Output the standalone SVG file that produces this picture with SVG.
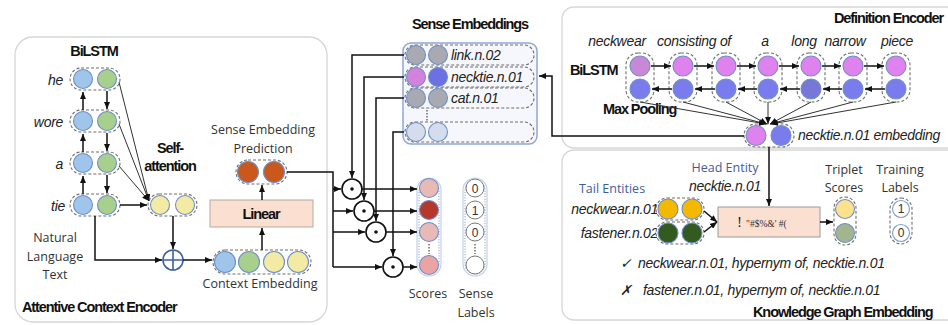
<svg xmlns="http://www.w3.org/2000/svg" width="948" height="325" viewBox="0 0 948 325">
<defs>
  <marker id="arr" markerWidth="7" markerHeight="6" refX="7" refY="3" orient="auto" markerUnits="userSpaceOnUse">
    <path d="M0,0 L7,3 L0,6 z" fill="#111"/>
  </marker>
  <style>
    .panel{fill:#fff;stroke:#d6d6d6;stroke-width:1.3}
    .grp{fill:#fff;stroke:#6f6f6f;stroke-width:1.1;stroke-dasharray:3 2}
    .grpn{fill:none;stroke:#6f6f6f;stroke-width:1.1;stroke-dasharray:3 2}
    .c{stroke:#6f8fc8;stroke-width:1.1}
    .blue{fill:#9fc5ea}
    .green{fill:#a8d08c}
    .yellow{fill:#f3eaa4}
    .orange{fill:#c9581a}
    .pink{fill:#df82ee}
    .violet{fill:#7a7cee}
    .gray{fill:#a9a9b2}
    .pale{fill:#d5dcec}
    .ln{fill:none;stroke:#111;stroke-width:1.5}
    .lnt{fill:none;stroke:#333;stroke-width:1}
    .bold{font-family:"Liberation Sans",Arial,sans-serif;font-weight:bold;font-size:14.5px;letter-spacing:-1.1px;fill:#111}
    .it{font-family:"Liberation Sans",Arial,sans-serif;font-style:italic;font-size:14px;fill:#222;letter-spacing:-0.3px}
    .lbl{font-family:"Open Sans","Liberation Sans",sans-serif;font-size:12.5px;fill:#333}
    .ent{font-family:"Open Sans","Liberation Sans",sans-serif;font-size:12.5px;fill:#3f5e9c}
    .num{font-family:"Liberation Sans",Arial,sans-serif;font-size:12px;fill:#333;text-anchor:middle}
    .odot{fill:#fff;stroke:#111;stroke-width:1.6}
  </style>
</defs>

<!-- panels -->
<rect class="panel" x="15" y="37" width="312" height="285" rx="18"/>
<rect class="panel" x="562" y="7" width="400" height="141" rx="12"/>
<rect class="panel" x="562" y="150" width="400" height="170" rx="12"/>

<!-- ===== Attentive context encoder ===== -->
<g id="context-encoder">
  <text class="bold" x="94" y="56" text-anchor="middle">BiLSTM</text>
  <text class="it" x="63" y="85" text-anchor="end">he</text>
  <text class="it" x="63" y="127" text-anchor="end">wore</text>
  <text class="it" x="63" y="169" text-anchor="end">a</text>
  <text class="it" x="65" y="211" text-anchor="end">tie</text>
  <g id="bilstm-he">
    <rect class="grp" x="70" y="68" width="50" height="22" rx="11"/>
    <circle class="c blue" cx="83" cy="79" r="9.5"/><circle class="c green" cx="107" cy="79" r="9.5"/>
  </g>
  <g id="bilstm-wore">
    <rect class="grp" x="70" y="110" width="50" height="22" rx="11"/>
    <circle class="c blue" cx="83" cy="121" r="9.5"/><circle class="c green" cx="107" cy="121" r="9.5"/>
  </g>
  <g id="bilstm-a">
    <rect class="grp" x="70" y="152" width="50" height="22" rx="11"/>
    <circle class="c blue" cx="83" cy="163" r="9.5"/><circle class="c green" cx="107" cy="163" r="9.5"/>
  </g>
  <g id="bilstm-tie">
    <rect class="grp" x="70" y="194" width="50" height="22" rx="11"/>
    <circle class="c blue" cx="83" cy="205" r="9.5"/><circle class="c green" cx="107" cy="205" r="9.5"/>
  </g>
  <text class="lbl" text-anchor="middle" font-size="13"><tspan x="55" y="242">Natural</tspan><tspan x="55" y="261">Language</tspan><tspan x="55" y="279">Text</tspan></text>
  <text class="bold" x="170" y="153" text-anchor="middle">Self-</text>
  <text class="bold" x="170" y="171" text-anchor="middle">attention</text>
  <g id="self-attention">
    <rect class="grp" x="148" y="194" width="49" height="22" rx="11"/>
    <circle class="c yellow" cx="160" cy="205" r="9.5"/><circle class="c yellow" cx="185" cy="205" r="9.5"/>
  </g>
  <g id="plus">
    <circle cx="173" cy="260" r="10" fill="#fff" stroke="#3d5fa0" stroke-width="1.6"/>
    <path d="M163,260 H183 M173,250 V270" stroke="#3d5fa0" stroke-width="1.6"/>
  </g>
  <g id="context-embedding">
    <rect class="grp" x="213" y="250" width="98" height="24" rx="12"/>
    <circle class="c blue" cx="225" cy="262" r="10.5"/><circle class="c green" cx="249" cy="262" r="10.5"/>
    <circle class="c yellow" cx="274" cy="262" r="10.5"/><circle class="c yellow" cx="298" cy="262" r="10.5"/>
  </g>
  <text class="lbl" x="260" y="288" text-anchor="middle" font-size="13.5">Context Embedding</text>
  <g id="linear">
    <rect x="210" y="200" width="103" height="27" fill="#fbe0d2" stroke="#b5aaa2" stroke-width="1"/>
    <text class="bold" x="261" y="219" text-anchor="middle" font-size="14" letter-spacing="-0.6">Linear</text>
  </g>
  <g id="prediction">
    <rect class="grp" x="236" y="160" width="51" height="24" rx="12"/>
    <circle class="c orange" cx="248" cy="172" r="10.5"/><circle class="c orange" cx="274" cy="172" r="10.5"/>
  </g>
  <text class="lbl" text-anchor="middle" font-size="13.5"><tspan x="263" y="134">Sense Embedding</tspan><tspan x="263" y="153">Prediction</tspan></text>
  <text class="bold" x="22" y="312">Attentive Context Encoder</text>
</g>

<!-- ===== Sense embeddings ===== -->
<g id="sense-embeddings">
  <text class="bold" x="470" y="29" text-anchor="middle">Sense Embeddings</text>
  <rect x="403" y="43" width="134" height="101" rx="8" fill="#f5f7fc" stroke="#8fa8d6" stroke-width="1.5"/>
  <rect class="grpn" x="405" y="45" width="129" height="20" rx="10"/>
  <rect class="grpn" x="405" y="67" width="129" height="20" rx="10"/>
  <rect class="grpn" x="405" y="88" width="129" height="20" rx="10"/>
  <rect class="grpn" x="405" y="122" width="129" height="20" rx="10"/>
  <circle class="c gray" cx="416" cy="55" r="9.5"/><circle class="c gray" cx="438" cy="55" r="9.5"/>
  <circle class="c" fill="#d382dc" cx="416" cy="77" r="9.5"/><circle class="c" fill="#6d70e2" cx="438" cy="77" r="9.5"/>
  <circle class="c gray" cx="416" cy="98" r="9.5"/><circle class="c gray" cx="438" cy="98" r="9.5"/>
  <circle class="c pale" cx="416" cy="132" r="9.5"/><circle class="c pale" cx="438" cy="132" r="9.5"/>
  <path d="M427,110 V121" stroke="#555" stroke-width="1.3" stroke-dasharray="1.5 1.5"/>
  <text class="it" x="451" y="60">link.n.02</text>
  <text class="it" x="451" y="82">necktie.n.01</text>
  <text class="it" x="451" y="103">cat.n.01</text>
</g>

<!-- ===== Dot products ===== -->
<g id="dot-products">
  <circle class="odot" cx="352" cy="189" r="10"/><circle cx="352" cy="189" r="1.8" fill="#111"/>
  <circle class="odot" cx="364" cy="211" r="10"/><circle cx="364" cy="211" r="1.8" fill="#111"/>
  <circle class="odot" cx="376" cy="232" r="10"/><circle cx="376" cy="232" r="1.8" fill="#111"/>
  <circle class="odot" cx="393" cy="267" r="10"/><circle cx="393" cy="267" r="1.8" fill="#111"/>
</g>

<!-- ===== Scores and labels ===== -->
<g id="scores">
  <rect x="417" y="178" width="24" height="98" rx="12" fill="#fff" stroke="#c3d1ec" stroke-width="1.2"/>
  <rect x="419" y="180" width="20" height="94" rx="10" fill="none" stroke="#86a1d0" stroke-width="1" stroke-dasharray="1.2 1.5"/>
  <circle class="c" fill="#e8b9b6" cx="429" cy="188" r="9.5"/>
  <circle class="c" fill="#b6382c" cx="429" cy="210" r="9.5"/>
  <circle class="c" fill="#e8b9b6" cx="429" cy="232" r="9.5"/>
  <circle class="c" fill="#eba3a3" cx="429" cy="265" r="9.5"/>
  <path d="M429,244 V254" stroke="#555" stroke-width="1.3" stroke-dasharray="1.5 1.5"/>
  <text class="lbl" x="428" y="298" text-anchor="middle" font-size="13.5">Scores</text>
</g>
<g id="sense-labels">
  <rect x="463" y="178" width="24" height="98" rx="12" fill="#fff" stroke="#c3d1ec" stroke-width="1.2"/>
  <rect x="465" y="180" width="20" height="94" rx="10" fill="none" stroke="#86a1d0" stroke-width="1" stroke-dasharray="1.2 1.5"/>
  <circle cx="475" cy="188" r="9" fill="#fff" stroke="#777" stroke-width="1"/>
  <circle cx="475" cy="210" r="9" fill="#fff" stroke="#777" stroke-width="1"/>
  <circle cx="475" cy="232" r="9" fill="#fff" stroke="#777" stroke-width="1"/>
  <circle cx="475" cy="265" r="9" fill="#fff" stroke="#777" stroke-width="1"/>
  <text class="num" x="475" y="192.5">0</text>
  <text class="num" x="475" y="214.5">1</text>
  <text class="num" x="475" y="236.5">0</text>
  <path d="M475,244 V254" stroke="#555" stroke-width="1.3" stroke-dasharray="1.5 1.5"/>
  <text class="lbl" text-anchor="middle" font-size="13.5"><tspan x="476" y="298">Sense</tspan><tspan x="476" y="317">Labels</tspan></text>
</g>

<!-- ===== Definition encoder ===== -->
<g id="definition-encoder">
  <text class="bold" x="943" y="23" text-anchor="end">Definition Encoder</text>
  <text class="it" y="46" text-anchor="middle"><tspan x="617">neckwear</tspan><tspan x="694">consisting of</tspan><tspan x="765">a</tspan><tspan x="804">long</tspan><tspan x="845">narrow</tspan><tspan x="897">piece</tspan></text>
  <text class="bold" x="570" y="75">BiLSTM</text>
  <text class="bold" x="603" y="114">Max Pooling</text>
  <g id="def-cols">
    <rect class="grp" x="626" y="53" width="28" height="49" rx="12"/>
    <rect class="grp" x="669" y="53" width="28" height="49" rx="12"/>
    <rect class="grp" x="712" y="53" width="28" height="49" rx="12"/>
    <rect class="grp" x="754" y="53" width="28" height="49" rx="12"/>
    <rect class="grp" x="797" y="53" width="28" height="49" rx="12"/>
    <rect class="grp" x="839" y="53" width="28" height="49" rx="12"/>
    <rect class="grp" x="882" y="53" width="28" height="49" rx="12"/>
    <circle class="c" fill="#c987d8" cx="640" cy="66" r="10"/>
    <circle class="c pink" cx="683" cy="66" r="10"/>
    <circle class="c pink" cx="726" cy="66" r="10"/>
    <circle class="c pink" cx="768" cy="66" r="10"/>
    <circle class="c pink" cx="811" cy="66" r="10"/>
    <circle class="c pink" cx="853" cy="66" r="10"/>
    <circle class="c pink" cx="896" cy="66" r="10"/>
    <circle class="c violet" cx="640" cy="89" r="10"/>
    <circle class="c violet" cx="683" cy="89" r="10"/>
    <circle class="c violet" cx="726" cy="89" r="10"/>
    <circle class="c violet" cx="768" cy="89" r="10"/>
    <circle class="c" fill="#7677d6" cx="811" cy="89" r="10"/>
    <circle class="c violet" cx="853" cy="89" r="10"/>
    <circle class="c violet" cx="896" cy="89" r="10"/>
  </g>
  <g id="pooled">
    <rect class="grp" x="744" y="124" width="50" height="23" rx="11.5"/>
    <circle class="c pink" cx="756" cy="135.5" r="10"/>
    <circle class="c violet" cx="781" cy="135.5" r="10"/>
  </g>
  <text class="it" x="798" y="140">necktie.n.01 embedding</text>
</g>

<!-- ===== Knowledge graph embedding ===== -->
<g id="kg-embedding">
  <text class="ent" x="725" y="172" text-anchor="middle" font-size="13.5">Head Entity</text>
  <text class="it" x="725" y="191" text-anchor="middle">necktie.n.01</text>
  <text class="ent" x="612" y="193" text-anchor="middle" font-size="13.5">Tail Entities</text>
  <text class="it" x="658" y="214" text-anchor="end">neckwear.n.01</text>
  <text class="it" x="658" y="238" text-anchor="end">fastener.n.02</text>
  <g id="tail-neckwear">
    <rect class="grp" x="656" y="198" width="48" height="22" rx="11"/>
    <circle class="c" fill="#f4b800" cx="668" cy="209" r="10"/><circle class="c" fill="#f4b800" cx="692" cy="209" r="10"/>
  </g>
  <g id="tail-fastener">
    <rect class="grp" x="656" y="222" width="48" height="22" rx="11"/>
    <circle class="c" fill="#335a1f" cx="668" cy="233" r="10"/><circle class="c" fill="#335a1f" cx="692" cy="233" r="10"/>
  </g>
  <g id="score-fn">
    <rect x="718" y="207" width="102" height="30" fill="#fbe0d2" stroke="#9a9a9a" stroke-width="1"/>
    <text x="737" y="227" font-family="Liberation Serif,serif" font-size="15" fill="#222">!</text>
    <text x="746" y="227" font-family="Liberation Serif,serif" font-size="9.5" fill="#333">"#$%&amp;' #(</text>
  </g>
  <text class="lbl" text-anchor="middle" font-size="13.5"><tspan x="844" y="174">Triplet</tspan><tspan x="844" y="192">Scores</tspan></text>
  <text class="lbl" text-anchor="middle" font-size="13.5"><tspan x="900" y="174">Training</tspan><tspan x="900" y="192">Labels</tspan></text>
  <g id="triplet-scores">
    <rect class="grp" x="834" y="197" width="22" height="48" rx="11"/>
    <circle class="c" fill="#fde18e" cx="845" cy="209" r="9.5"/>
    <circle class="c" fill="#a3b58f" cx="845" cy="233" r="9.5"/>
  </g>
  <g id="training-labels">
    <rect class="grp" x="890" y="198" width="22" height="46" rx="11"/>
    <circle cx="901" cy="209" r="8.5" fill="#fff" stroke="#7f9ccc" stroke-width="1.1"/>
    <circle cx="901" cy="233" r="8.5" fill="#fff" stroke="#7f9ccc" stroke-width="1.1"/>
    <text class="num" x="901" y="213">1</text>
    <text class="num" x="901" y="237">0</text>
  </g>
  <text class="it" x="620" y="268">✓</text>
  <text class="it" x="638" y="268">neckwear.n.01, hypernym of, necktie.n.01</text>
  <text class="it" x="620" y="295">✗</text>
  <text class="it" x="643" y="295">fastener.n.01, hypernym of, necktie.n.01</text>
  <text class="bold" x="753" y="317">Knowledge Graph Embedding</text>
</g>

<!-- ===== Connectors ===== -->
<g id="connectors">
  <!-- BiLSTM recurrences -->
  <path class="ln" d="M83,110 V92" marker-end="url(#arr)"/>
  <path class="ln" d="M83,152 V134" marker-end="url(#arr)"/>
  <path class="ln" d="M83,194 V176" marker-end="url(#arr)"/>
  <path class="ln" d="M107,91 V109" marker-end="url(#arr)"/>
  <path class="ln" d="M107,133 V151" marker-end="url(#arr)"/>
  <path class="ln" d="M107,175 V193" marker-end="url(#arr)"/>
  <!-- attention inputs -->
  <path class="lnt" d="M119,82 L149,201" marker-end="url(#arr)"/>
  <path class="lnt" d="M119,124 L149,201" marker-end="url(#arr)"/>
  <path class="lnt" d="M119,166 L149,201" marker-end="url(#arr)"/>
  <path class="ln" d="M120,205 H147" marker-end="url(#arr)"/>
  <!-- residual to sum -->
  <path class="ln" d="M95,216 V260 H162" marker-end="url(#arr)"/>
  <path class="ln" d="M173,216 V249" marker-end="url(#arr)"/>
  <path class="ln" d="M183,260 H212" marker-end="url(#arr)"/>
  <!-- linear projection -->
  <path class="ln" d="M262,250 V228" marker-end="url(#arr)"/>
  <path class="ln" d="M262,200 V185" marker-end="url(#arr)"/>
  <!-- prediction to dot products -->
  <path class="ln" d="M287,172 H333 V267"/>
  <path class="ln" d="M333,189 H341" marker-end="url(#arr)"/>
  <path class="ln" d="M333,211 H353" marker-end="url(#arr)"/>
  <path class="ln" d="M333,232 H365" marker-end="url(#arr)"/>
  <path class="ln" d="M333,267 H382" marker-end="url(#arr)"/>
  <!-- sense embeddings to dot products -->
  <path class="ln" d="M404,55 H352 V178" marker-end="url(#arr)"/>
  <path class="ln" d="M404,77 H364 V200" marker-end="url(#arr)"/>
  <path class="ln" d="M404,98 H376 V221" marker-end="url(#arr)"/>
  <path class="ln" d="M404,132 H393 V256" marker-end="url(#arr)"/>
  <!-- dot products to scores -->
  <path class="ln" d="M362,189 H417" marker-end="url(#arr)"/>
  <path class="ln" d="M374,211 H417" marker-end="url(#arr)"/>
  <path class="ln" d="M386,232 H417" marker-end="url(#arr)"/>
  <path class="ln" d="M403,267 H417" marker-end="url(#arr)"/>
  <!-- definition BiLSTM forward / backward -->
  <path class="ln" d="M651,66 H671" marker-end="url(#arr)"/>
  <path class="ln" d="M694,66 H714" marker-end="url(#arr)"/>
  <path class="ln" d="M737,66 H756" marker-end="url(#arr)"/>
  <path class="ln" d="M779,66 H799" marker-end="url(#arr)"/>
  <path class="ln" d="M822,66 H841" marker-end="url(#arr)"/>
  <path class="ln" d="M864,66 H884" marker-end="url(#arr)"/>
  <path class="ln" d="M672,89 H652" marker-end="url(#arr)"/>
  <path class="ln" d="M715,89 H695" marker-end="url(#arr)"/>
  <path class="ln" d="M757,89 H738" marker-end="url(#arr)"/>
  <path class="ln" d="M800,89 H780" marker-end="url(#arr)"/>
  <path class="ln" d="M842,89 H823" marker-end="url(#arr)"/>
  <path class="ln" d="M885,89 H865" marker-end="url(#arr)"/>
  <!-- max pooling -->
  <path class="lnt" d="M640,102 L766,124" marker-end="url(#arr)"/>
  <path class="lnt" d="M683,102 L766,124" marker-end="url(#arr)"/>
  <path class="lnt" d="M726,102 L767,124" marker-end="url(#arr)"/>
  <path class="lnt" d="M768,102 V124" marker-end="url(#arr)"/>
  <path class="lnt" d="M811,102 L770,124" marker-end="url(#arr)"/>
  <path class="lnt" d="M853,102 L770,124" marker-end="url(#arr)"/>
  <path class="lnt" d="M896,102 L771,124" marker-end="url(#arr)"/>
  <!-- pooled embedding to sense table -->
  <path class="ln" d="M744,136 H552 V76 H539" marker-end="url(#arr)"/>
  <!-- head entity into scoring -->
  <path class="ln" d="M769,147 V206" marker-end="url(#arr)"/>
  <!-- tails into scoring -->
  <path class="ln" d="M704,211 L717,222" marker-end="url(#arr)"/>
  <path class="ln" d="M704,232 L717,222" marker-end="url(#arr)"/>
  <path class="ln" d="M820,222 H833" marker-end="url(#arr)"/>
</g>
</svg>
